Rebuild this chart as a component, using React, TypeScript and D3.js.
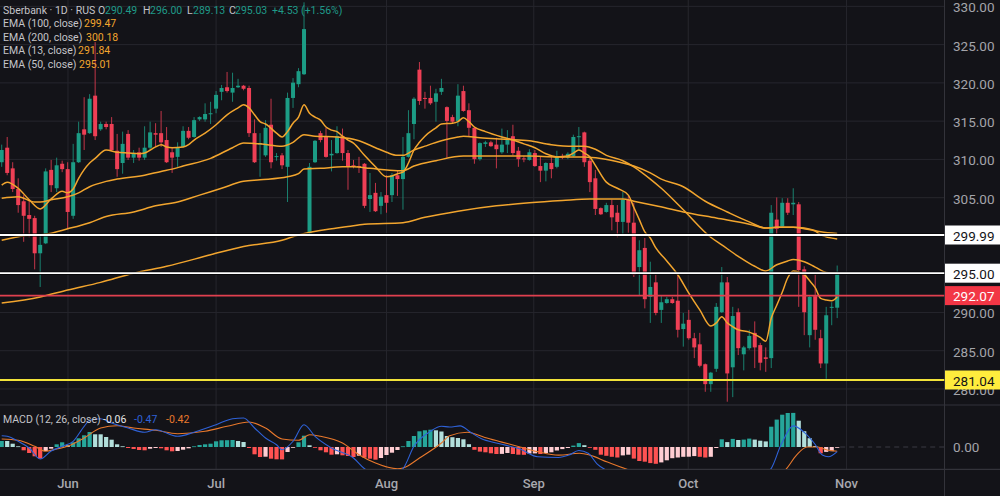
import React from "react";
import * as d3 from "d3";

const opens = [
309.5,311.4,308.7,306.0,304.4,302.6,302.2,297.6,298.9,308.5,
306.1,309.3,308.6,302.5,309.5,313.8,313.3,318.2,313.8,314.5,
314.5,311.0,309.4,313.2,310.1,310.8,310.1,311.4,313.3,313.3,
312.4,310.8,310.2,311.5,313.6,312.8,315.1,315.1,315.8,316.5,
318.7,319.3,318.6,319.3,319.5,319.2,313.3,311.8,310.4,314.4,
310.2,310.4,308.9,317.9,319.7,321.0,300.2,309.5,313.3,312.8,
310.4,310.7,312.9,310.7,309.1,309.0,309.3,304.7,305.5,303.8,
305.2,305.2,307.8,307.3,310.2,314.5,321.6,317.9,317.9,317.4,
318.7,316.7,315.4,314.9,318.8,316.3,314.0,309.9,311.9,312.1,
311.8,310.8,311.8,312.9,311.0,310.0,309.8,310.7,309.0,308.4,
309.4,308.9,310.3,310.1,310.3,312.8,313.4,309.7,307.4,303.5,
303.0,303.9,302.9,301.7,304.6,301.6,295.8,298.3,291.9,293.8,
290.2,291.1,291.6,291.4,287.7,288.9,286.5,285.7,283.1,280.5,
282.5,289.9,293.8,282.7,289.9,284.4,285.2,287.2,285.6,284.0,
283.9,302.0,301.1,304.2,304.0,304.0,295.5,286.9,292.0,286.5,
283.2,290.5,290.49];
const highs = [
311.8,312.8,309.5,307.4,305.2,304.6,302.5,300.0,308.7,309.8,
310.1,309.7,309.5,311.9,314.8,318.0,318.4,325.2,314.8,314.8,
315.4,313.2,313.5,313.7,311.1,311.4,314.2,314.8,314.6,316.2,
314.1,311.5,312.1,314.2,314.1,315.4,315.5,317.2,317.4,318.8,
319.6,321.3,321.2,320.4,319.6,319.5,315.1,313.3,315.0,317.8,
310.7,310.7,318.6,320.5,321.8,330.4,309.4,312.4,313.6,314.0,
312.4,314.2,313.9,311.1,309.8,310.2,309.4,308.1,306.8,305.6,
307.8,308.1,308.4,312.8,316.3,318.0,322.6,318.7,319.5,319.1,
320.4,316.8,315.7,319.7,319.5,317.2,314.1,312.1,312.3,312.3,
312.7,313.9,313.7,314.4,311.5,310.3,311.2,311.1,310.2,309.5,
310.4,311.0,310.6,310.8,313.1,314.1,313.5,310.1,308.5,303.6,
304.2,304.6,303.9,305.6,305.1,304.2,299.3,299.6,296.5,294.8,
292.0,291.9,291.9,294.8,289.8,290.2,287.2,287.2,283.2,282.1,
291.1,295.8,294.5,290.6,290.4,285.5,287.6,288.7,285.9,285.3,
303.9,304.9,304.8,304.8,306.1,304.3,295.9,292.0,294.8,287.6,
290.6,291.2,296.0];
const lows = [
308.9,307.8,305.6,302.9,299.1,299.7,295.5,293.2,298.8,305.6,
305.6,308.2,300.8,302.1,309.4,311.1,313.2,312.4,313.6,313.8,
311.0,307.6,308.0,309.8,309.4,309.7,309.8,311.1,311.5,311.5,
309.4,308.1,308.9,311.4,312.5,312.7,314.9,314.8,314.5,315.9,
317.6,318.6,317.4,319.2,318.9,312.8,309.4,307.6,310.2,308.7,
309.7,308.6,304.3,316.6,319.3,320.9,300.1,309.4,312.1,310.1,
308.3,310.6,309.7,305.9,308.7,308.1,303.5,303.0,303.0,302.7,
302.9,304.3,305.1,303.3,310.1,312.5,317.0,316.5,317.0,314.8,
318.3,310.1,314.6,314.2,316.1,312.9,309.3,309.7,311.5,311.5,
308.7,310.6,310.7,310.4,308.9,309.5,309.7,308.9,306.9,307.0,
307.4,308.7,309.9,309.9,310.2,311.1,308.9,305.6,302.6,302.6,
302.9,300.6,299.7,299.9,300.3,294.5,292.1,290.4,288.5,289.5,
288.5,291.0,291.0,286.6,285.4,286.3,283.9,282.7,279.5,279.5,
282.1,289.8,278.2,278.8,284.3,282.3,285.0,282.6,282.3,282.1,
282.6,299.9,301.0,302.6,302.6,290.6,286.9,285.3,286.3,282.6,
281.2,288.2,289.13];
const closes = [
311.1,308.1,306.0,303.9,302.5,302.1,297.6,298.7,308.3,306.5,
309.1,308.6,303.0,309.5,313.3,313.1,317.8,312.9,314.5,314.1,
311.1,308.6,311.9,310.1,310.7,310.1,311.4,313.4,313.1,312.1,
309.5,310.1,311.4,313.6,312.7,315.0,315.4,315.8,315.9,318.3,
319.2,318.8,319.2,319.5,319.1,313.3,309.5,312.0,314.0,309.5,
310.3,309.1,317.9,319.9,321.4,326.9,308.9,312.3,312.4,310.2,
310.6,312.9,310.7,308.9,308.9,308.9,303.8,305.2,303.1,305.0,
304.2,307.8,307.3,310.2,313.3,317.8,317.5,317.8,317.2,318.5,
319.2,314.9,314.8,318.2,316.2,314.0,309.9,312.0,312.1,311.6,
311.2,311.8,312.5,310.7,309.9,309.9,310.8,309.0,308.4,309.4,
308.6,310.3,310.1,310.6,312.8,312.9,309.5,306.9,303.4,302.7,
303.9,302.3,301.7,304.6,301.6,294.8,298.0,291.6,293.2,289.8,
291.2,291.6,291.1,287.6,288.4,286.5,285.3,282.9,280.5,282.0,
290.6,293.8,281.9,289.4,285.2,285.3,286.8,285.3,283.3,283.8,
302.9,300.8,304.2,302.9,304.2,295.4,289.9,291.9,287.6,283.2,
289.5,290.6,295.03];

// EMA readings as [bar index, value]
const ema13: [number, number][] = [[0,306.5],[1,306.9],[3,306.1],[5,304.6],[7,303.4],[9,304.7],[11,305.7],[12,305.5],[13,306.0],[14,307.4],[16,309.4],[17,310.0],[19,311.1],[21,310.8],[23,310.7],[25,310.6],[26,310.7],[28,311.5],[29,311.8],[30,311.5],[31,311.4],[33,311.5],[34,311.8],[35,312.4],[37,313.3],[39,314.4],[41,315.7],[43,316.6],[44,317.0],[45,316.6],[46,315.7],[47,314.8],[48,314.5],[50,313.3],[51,312.8],[52,313.5],[53,314.6],[54,315.4],[55,317.0],[56,315.9],[57,315.4],[58,315.0],[59,314.1],[60,313.7],[61,313.5],[62,312.9],[63,312.4],[64,312.0],[66,310.4],[68,308.9],[70,307.6],[71,307.7],[72,308.0],[73,308.2],[74,309.4],[75,311.1],[76,312.1],[77,312.9],[79,314.0],[80,314.5],[82,314.6],[83,314.8],[84,315.3],[85,314.8],[86,314.1],[88,313.5],[91,312.8],[93,312.4],[95,311.9],[97,311.4],[99,310.6],[101,310.2],[103,310.3],[104,310.7],[105,311.1],[106,310.7],[107,310.2],[108,309.1],[110,306.9],[112,306.1],[114,305.2],[115,303.6],[116,302.0],[117,300.4],[118,299.6],[119,298.3],[121,296.6],[123,294.8],[125,292.4],[127,290.2],[129,288.1],[130,288.5],[131,289.3],[132,288.5],[133,288.0],[134,287.6],[136,287.3],[138,286.6],[139,286.1],[140,289.1],[141,290.8],[142,292.5],[143,294.4],[144,295.3],[146,294.8],[147,294.0],[148,293.1],[149,291.7],[150,291.5],[151,291.4],[152,291.9]];
const ema50: [number, number][] = [[0,304.8],[3,305.0],[6,304.3],[7,304.3],[9,304.6],[12,305.0],[14,305.5],[16,306.3],[19,307.0],[21,307.3],[26,307.8],[29,308.3],[31,308.6],[33,309.0],[38,310.0],[42,311.4],[44,312.0],[47,311.9],[51,311.6],[53,312.1],[55,313.1],[57,312.9],[61,312.8],[64,312.5],[65,312.3],[68,311.4],[70,310.8],[72,310.4],[73,310.4],[75,311.1],[77,311.6],[80,312.3],[83,312.8],[84,312.9],[87,312.7],[92,312.5],[96,312.3],[100,311.8],[104,311.6],[106,311.6],[108,311.2],[110,310.4],[113,309.7],[115,308.9],[118,307.3],[120,306.1],[124,303.3],[129,299.7],[131,298.7],[134,297.2],[137,295.9],[139,295.3],[141,296.1],[143,296.6],[144,296.8],[146,296.5],[148,295.8],[150,295.1],[152,295.0]];
const ema100: [number, number][] = [[0,299.3],[4,299.9],[8,300.1],[12,300.8],[16,301.6],[19,302.4],[24,303.0],[28,303.8],[32,304.3],[36,305.2],[40,306.1],[44,307.0],[47,307.2],[52,307.6],[54,308.0],[55,308.6],[58,308.7],[62,308.9],[64,308.9],[67,308.7],[72,308.4],[73,308.4],[75,309.0],[79,309.7],[84,310.3],[90,310.3],[96,310.3],[101,310.2],[106,310.2],[109,310.0],[113,309.4],[115,309.0],[118,308.1],[120,307.3],[124,306.3],[128,304.4],[132,303.0],[136,301.7],[139,300.9],[141,301.0],[144,301.0],[146,300.8],[148,300.5],[149,300.0],[152,299.47]];
const ema200: [number, number][] = [[0,291.1],[7,291.9],[12,292.8],[18,293.8],[24,295.0],[30,295.9],[38,297.4],[44,298.5],[51,299.3],[54,300.0],[61,300.9],[63,301.1],[66,301.4],[73,301.6],[77,302.3],[83,303.1],[90,303.8],[96,304.2],[102,304.5],[107,304.7],[113,304.7],[115,304.4],[119,303.8],[124,303.0],[130,302.2],[136,301.4],[139,300.9],[141,301.0],[144,301.0],[146,300.9],[149,300.4],[152,300.18]];

const macdHist = [
.6,.6,.33,.07,-.33,-.6,-.93,-1.17,-.4,-.17,
.27,.47,.17,.47,.87,1.17,1.5,1.27,1.27,1.0,
.73,.27,.07,-.1,-.2,-.3,-.33,-.17,-.1,-.13,
-.33,-.43,-.4,-.27,-.13,.07,.2,.27,.33,.57,
.67,.68,.7,.6,.5,-.1,-.73,-1.0,-.97,-1.17,
-1.23,-1.24,-.5,-.07,.47,1.13,.17,-.07,-.33,-.53,
-.77,-.73,-.83,-.9,-1.0,-.87,-1.07,-1.17,-1.27,-1.1,
-.8,-.57,-.3,.07,.6,1.1,1.57,1.67,1.73,1.67,
1.55,1.1,.98,.9,.77,.28,-.28,-.46,-.53,-.63,
-.7,-.69,-.6,-.7,-.77,-.78,-.65,-.64,-.7,-.6,
-.53,-.35,-.21,-.1,.14,.39,.18,-.07,-.28,-.77,
-.88,-.98,-1.05,-.84,-.77,-1.16,-1.4,-1.47,-1.61,-1.68,
-1.54,-1.33,-1.12,-1.05,-.98,-.97,-.91,-.98,-1.05,-.98,
-.1,.77,.49,.81,.7,.74,.84,.74,.63,.56,
2.03,2.74,3.23,3.4,3.41,2.63,1.58,.88,.1,-.63,
-.49,-.42,-.06];

const macdLine: [number, number][] = [[0,1.13],[1,1.07],[3,.57],[5,-.1],[7,-1.2],[9,-.4],[11,.07],[13,.57],[15,2.07],[16,2.67],[18,2.83],[20,2.4],[23,1.9],[26,1.47],[28,1.73],[32,1.07],[35,1.47],[39,2.23],[42,2.83],[44,2.9],[46,1.9],[48,.9],[50,.23],[51,-.27],[53,.57],[55,2.23],[57,1.07],[60,-.1],[64,-1.1],[66,-2.17],[69,-3.0],[71,-3.0],[72,-2.5],[73,-2.17],[75,.07],[78,1.57],[80,2.07],[81.5,2.0],[83.4,2.11],[85.3,1.47],[87.2,.84],[90.4,.35],[94.3,-.21],[97.5,-.98],[101.3,-1.05],[103.2,-.81],[105,-.35],[106.7,-.63],[108.3,-1.68],[110.2,-2.39],[115,-3.5],[122,-5],[130,-4.5],[136,-3.2],[139.8,-2.28],[141.8,.25],[144,2.11],[146,1.47],[148,.25],[149.3,-.81],[150.4,-.98],[152,-.47]];
const signalLine: [number, number][] = [[0,.8],[3,.67],[6,.07],[8,-.43],[10,-.2],[12,.07],[15,.9],[18,1.9],[21,2.13],[24,1.9],[28,1.67],[32,1.33],[37,1.57],[41,2.07],[45,2.5],[48,1.9],[51,.8],[54,.67],[56,1.23],[58,1.07],[62,.4],[65,-.77],[68,-1.6],[72,-2.17],[73,-2.1],[76,-1.1],[80,.4],[81.5,1.12],[84.7,1.47],[87.9,.95],[91,.49],[94.3,0],[97.5,-.46],[101.3,-.81],[105.1,-.63],[107,-.81],[110.2,-1.51],[114,-2.28],[120,-3.8],[128,-4.6],[134,-4.3],[138,-3.6],[142.6,-2.28],[144.6,-.81],[146.5,0],[148.5,0],[150,-.28],[152,-.42]];

const priceTicks = [330,325,320,315,310,305,300,295,290,285,280];
const monthLabels = ["Jun","Jul","Aug","Sep","Oct","Nov"];
const monthIndex = [12.06,39,70,96.8,124.9,153.7];
const levels = [
  { v: 299.99, color: "#ffffff", box: "#ffffff", text: "#131317" },
  { v: 295.0, color: "#ffffff", box: "#ffffff", text: "#131317" },
  { v: 292.07, color: "#e0404f", box: "#f23645", text: "#ffffff" },
  { v: 281.04, color: "#f2e33a", box: "#ffec3d", text: "#131317" },
];
const GREEN = "#1c9c85", RED = "#ee3f55", ORANGE = "#f2a52e", FONT = "Roboto, sans-serif";
const W = 1000, H = 496, AXIS_X = 944.5;

const x = d3.scaleLinear().domain([0, 152]).range([1.7, 837.2]);
const y = d3.scaleLinear().domain([299.99, 281.04]).range([235, 380]);
const m = d3.scaleLinear().domain([0, 1]).range([447, 437]);

const emaPath = d3.line<[number, number]>().x(d => x(d[0])).y(d => y(d[1])).curve(d3.curveMonotoneX);
const macdPath = d3.line<[number, number]>().x(d => x(d[0])).y(d => m(d[1])).curve(d3.curveMonotoneX);

function histColor(i: number) {
  const v = macdHist[i], p = i > 0 ? macdHist[i - 1] : 0;
  if (v >= 0) return v > p ? "#26a69a" : "#b2dfdb";
  return v < p ? "#ff5252" : "#ffcdd2";
}

const Header = ({ px, py, parts }: { px: number; py: number; parts: [number, string, string][] }) => (
  <>
    {parts.map(([dx, t, c], i) => (
      <text key={i} x={px + dx} y={py} fill={c} fontSize={10.5} fontFamily={FONT} dominantBaseline="central">{t}</text>
    ))}
  </>
);
const LABEL = "#c4c4c8";
const TV = "#1f9a88";

export default function App() {
  return (
    <div style={{ position: "fixed", left: 0, top: 0 }}>
      <svg width={W} height={H} style={{ display: "block" }}>
        <defs>
          <clipPath id="macdClip"><rect x={0} y={405.5} width={AXIS_X} height={63.5} /></clipPath>
          <clipPath id="mainClip"><rect x={0} y={0} width={AXIS_X} height={405} /></clipPath>
        </defs>
        <rect width={W} height={H} fill="#131318" />
        {priceTicks.map(t => (
          <line key={t} x1={0} x2={AXIS_X} y1={y(t) + 1} y2={y(t) + 1} stroke="#26262d" />
        ))}
        {monthIndex.map((t, i) => (
          <line key={i} x1={x(t)} x2={x(t)} y1={0} y2={469} stroke="#26262d" />
        ))}
        <line x1={0} x2={W} y1={405} y2={405} stroke="#33333a" strokeWidth={1.2} />
        <line x1={0} x2={W} y1={469.3} y2={469.3} stroke="#33333a" strokeWidth={1.2} />
        <line x1={AXIS_X} x2={AXIS_X} y1={0} y2={H} stroke="#33333a" />
        <line x1={x(152) + 3} x2={AXIS_X} y1={m(0)} y2={m(0)} stroke="#3a3a42" strokeDasharray="5 4" />

        <g clipPath="url(#mainClip)">
          {opens.map((o, i) => {
            const c = closes[i], col = c >= o ? GREEN : RED;
            const top = y(Math.max(o, c)), bot = y(Math.min(o, c));
            return (
              <g key={i}>
                <line x1={x(i)} x2={x(i)} y1={y(highs[i])} y2={y(lows[i])} stroke={col} strokeOpacity={0.8} strokeWidth={1} />
                <rect x={x(i) - 2} y={top} width={4} height={Math.max(bot - top, 1)} fill={col} />
              </g>
            );
          })}
          {[ema200, ema100, ema50, ema13].map((e, i) => (
            <path key={i} d={emaPath(e)!} fill="none" stroke={ORANGE} strokeWidth={1.5} />
          ))}
          {levels.map(l => (
            <g key={l.v}>
              {l.color === "#ffffff" && <line x1={0} x2={AXIS_X} y1={y(l.v)} y2={y(l.v)} stroke="#000000" strokeOpacity={0.75} strokeWidth={3.6} />}
              <line x1={0} x2={AXIS_X} y1={y(l.v)} y2={y(l.v)} stroke={l.color} strokeWidth={1.8} />
            </g>
          ))}
        </g>

        {macdHist.map((v, i) => (
          <rect key={i} x={x(i) - 2.1} width={4.2} y={Math.min(m(v), m(0))} height={Math.max(Math.abs(m(v) - m(0)), 0.8)} fill={histColor(i)} />
        ))}
        <g clipPath="url(#macdClip)">
          <path d={macdPath(signalLine)!} fill="none" stroke="#e8782c" strokeWidth={1.1} />
          <path d={macdPath(macdLine)!} fill="none" stroke="#2f62d8" strokeWidth={1.1} />
        </g>

        {priceTicks.map(t => (
          <text key={t} x={953} y={y(t) + 2} fill="#a4a4aa" fontSize={13.5} fontFamily={FONT} dominantBaseline="central">{t.toFixed(2)}</text>
        ))}
        <text x={953} y={m(0)} fill="#a4a4aa" fontSize={13.5} fontFamily={FONT} dominantBaseline="central">0.00</text>
        {levels.map(l => (
          <g key={l.v}>
            <rect x={945} y={y(l.v) - 9.5} width={55} height={19} fill={l.box} />
            <text x={953} y={y(l.v) + 0.5} fill={l.text} fontSize={13.5} fontFamily={FONT} dominantBaseline="central">{l.v.toFixed(2)}</text>
          </g>
        ))}
        {monthLabels.map((t, i) => (
          <text key={t} x={x(monthIndex[i])} y={483} fill="#a8a8ae" fontSize={13} fontWeight={500} fontFamily={FONT} textAnchor="middle" dominantBaseline="central">{t}</text>
        ))}

        <Header px={3} py={10} parts={[[0, "Sberbank · 1D · RUS", LABEL], [95, "O", LABEL], [102, "290.49", TV], [140, "H", LABEL], [147, "296.00", TV], [184, "L", LABEL], [190, "289.13", TV], [226, "C", LABEL], [232, "295.03", TV], [269, "+4.53 (+1.56%)", TV]]} />
        <Header px={3} py={23.5} parts={[[0, "EMA (100, close)", LABEL], [81, "299.47", ORANGE]]} />
        <Header px={3} py={37} parts={[[0, "EMA (200, close)", LABEL], [83, "300.18", ORANGE]]} />
        <Header px={3} py={50.5} parts={[[0, "EMA (13, close)", LABEL], [75, "291.84", ORANGE]]} />
        <Header px={3} py={64} parts={[[0, "EMA (50, close)", LABEL], [76, "295.01", ORANGE]]} />
        <Header px={3} py={419} parts={[[0, "MACD (12, 26, close)", LABEL], [100, "-0.06", "#e8e8ea"], [131, "-0.47", "#2f62d8"], [163, "-0.42", "#e8782c"]]} />
      </svg>
    </div>
  );
}
